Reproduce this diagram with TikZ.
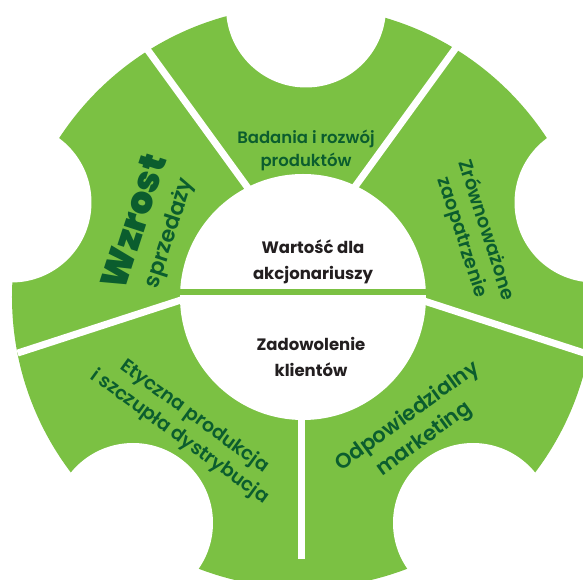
\documentclass[tikz,border=0pt]{standalone}
\usepackage{fontspec}
\setmainfont{Poppins}
\newfontfamily\segfont{Poppins SemiBold}
\definecolor{gearfill}{HTML}{7BC143}
\definecolor{labelgreen}{HTML}{0B5D2E}
\definecolor{centerink}{HTML}{231F20}

\begin{document}
\begin{tikzpicture}[x=1pt, y=1pt,
  segtext/.style={text=labelgreen, align=center, inner sep=0pt,
    font=\segfont\fontsize{19}{25}\selectfont},
  core/.style={text=centerink, align=center, inner sep=0pt,
    font=\bfseries\fontsize{16.5}{26}\selectfont}]
 \useasboundingbox (-303,-283) rectangle (280,297);
 \clip (-303,-283) rectangle (280,297);
 \fill[gearfill] (0,0) circle (291);
 \foreach \x/\y in {3/289.5, -291.5/94.5, 291.5/94.5, -170/-226, 170/-226}
   \fill[white] (\x,\y) circle (80);
 \coordinate (hub) at (-2,36);
 \foreach \a in {270,342,54,126,198}
   \draw[white, line width=7] (hub) -- ++(\a:298);
 \fill[white] (0,0) circle (123);
 \draw[gearfill, line width=6] (-123,5) -- (123,5);
 \node[segtext, font=\segfont\fontsize{16.5}{23}\selectfont] (badania) at (3,147)
   {Badania i rozwój\\produktów};
 \node[segtext, rotate=-72] (zrownowazone) at (171,63)
   {Zrównoważone\\zaopatrzenie};
 \node[segtext, rotate=72, font=\segfont\fontsize{22}{31}\selectfont] (wzrost) at (-152,70)
   {{\bfseries\fontsize{37}{34}\selectfont Wzrost}\\sprzedaży};
 \node[segtext, rotate=-36] (etyczna) at (-116,-130)
   {Etyczna produkcja\\i szczupła dystrybucja};
 \node[segtext, rotate=36, font=\segfont\fontsize{21}{28}\selectfont] (odpowiedzialny) at (113,-131)
   {Odpowiedzialny\\marketing};
 \node[core] (wartosc) at (10,35) {Wartość dla\\akcjonariuszy};
 \node[core] (zadowolenie) at (8,-60) {Zadowolenie\\klientów};
\end{tikzpicture}
\end{document}
